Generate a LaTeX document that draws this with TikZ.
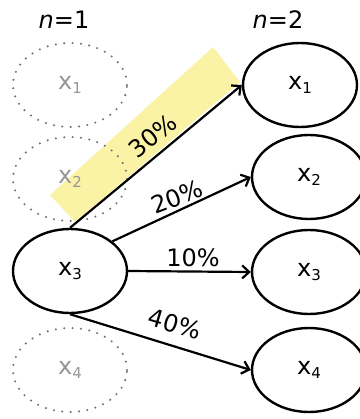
\documentclass[tikz,border=0pt]{standalone}
\usepackage{fontspec}
\setmainfont{DejaVu Sans}
\usetikzlibrary{shapes.geometric,arrows.meta}
\definecolor{highlight}{RGB}{250,243,165}
\definecolor{ghost}{RGB}{150,150,150}
\definecolor{dotgray}{RGB}{110,110,125}
% state name with a lowered subscript index
\newcommand\xsub[1]{x\raisebox{-4.5pt}{\fontsize{15}{15}\selectfont #1}}
\begin{document}
\begin{tikzpicture}[x=1pt,y=-1pt,
  bigtext/.style={font=\fontsize{24}{24}\selectfont},
  state/.style={ellipse, draw, line width=2.4pt, minimum width=114pt,
    minimum height=84pt, inner sep=0pt, bigtext},
  ghoststate/.style={ellipse, draw=dotgray, line width=2.3pt, line cap=round,
    dash pattern=on 0pt off 8.4pt, minimum width=114pt, minimum height=84pt,
    inner sep=0pt, text=ghost, bigtext},
  trans/.style={line width=2.2pt,
    -{Straight Barb[length=7pt,width=13pt,line width=2.2pt]}},
  prob/.style={bigtext, inner sep=0pt},
  head/.style={bigtext, inner sep=0pt}]
\useasboundingbox (0,0) rectangle (359,419);

% highlight band along the 30% transition
\fill[highlight] (50,195) -- (75,222) -- (240,82) -- (213,47) -- cycle;

% column headers
\node[head] (h1) at (64,20) {{\itshape n}=1};
\node[head] (h2) at (278,20) {{\itshape n}=2};

% states at n=1
\node[ghoststate] (a1) at (70,85)  {\xsub{1}};
\node[ghoststate] (a2) at (70,179) {\xsub{2}};
\node[state]      (a3) at (70,271) {\xsub{3}};
\node[ghoststate] (a4) at (70,370) {\xsub{4}};

% states at n=2
\node[state] (b1) at (300,85)  {\xsub{1}};
\node[state] (b2) at (309,177) {\xsub{2}};
\node[state] (b3) at (309,272) {\xsub{3}};
\node[state] (b4) at (309,370) {\xsub{4}};

% transitions out of x3
\draw[trans] (a3.north) -- (b1.west);
\draw[trans] (a3.35) -- (b2.west);
\draw[trans] (a3.east) -- (b3.west);
\draw[trans] (a3.south) -- (b4.west);

% transition probabilities
\node[prob, rotate=39.5]  (p1) at (153,136) {30\%};
\node[prob, rotate=20.8]  (p2) at (177,197) {20\%};
\node[prob]               (p3) at (193,258) {10\%};
\node[prob, rotate=-16.4] (p4) at (175,324) {40\%};
\end{tikzpicture}
\end{document}
